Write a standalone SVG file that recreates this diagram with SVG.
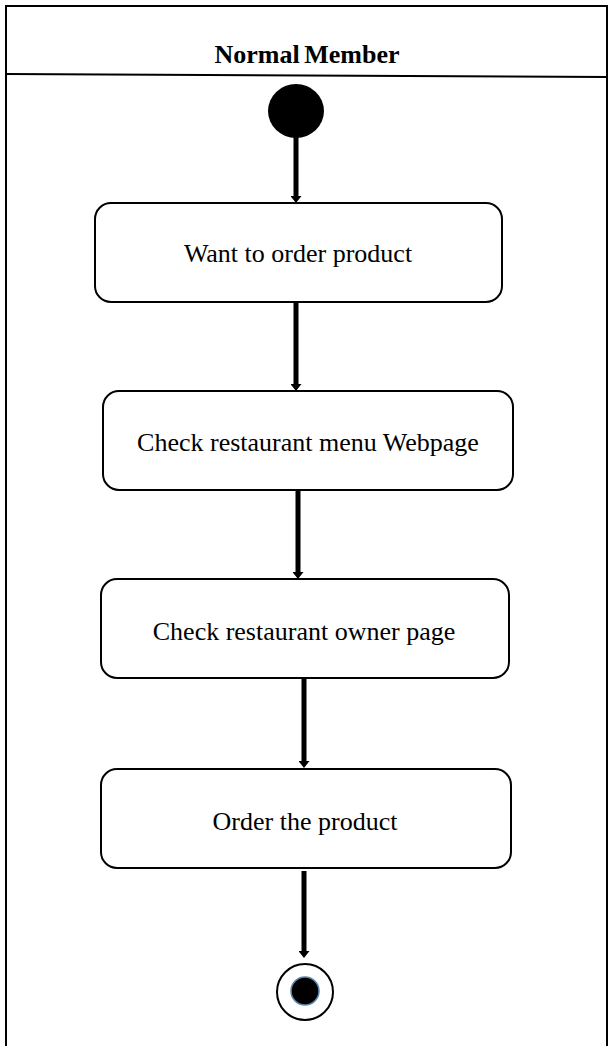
<svg xmlns="http://www.w3.org/2000/svg" width="614" height="1060" viewBox="0 0 614 1060">
<style>
.frame{fill:none;stroke:#000;stroke-width:2}
.box{fill:#fff;stroke:#000;stroke-width:2}
.lbl{font-family:"Liberation Serif","Times New Roman",serif;font-size:26px;fill:#000;text-anchor:middle}
.title{font-family:"Liberation Serif","Times New Roman",serif;font-size:26px;font-weight:bold;fill:#000;text-anchor:middle;word-spacing:-2px}
.conn{stroke:#000;stroke-width:5;fill:none;marker-end:url(#arr)}
</style>
<defs>
<marker id="arr" viewBox="0 0 7 11" refX="0" refY="5.5" markerWidth="7" markerHeight="11" orient="auto" markerUnits="userSpaceOnUse">
<path d="M0,0 L7,5.5 L0,11 Z" fill="#000"/>
</marker>
</defs>
<rect width="614" height="1060" fill="#fff"/>
<g id="lane">
<path class="frame" d="M6,1046 V6 H607 V1046"/>
<path d="M6,74 L608,77" stroke="#000" stroke-width="2" fill="none"/>
<text class="title" x="307" y="63">Normal Member</text>
</g>
<g id="connectors">
<line class="conn" x1="296" y1="136" x2="296" y2="196"/>
<line class="conn" x1="296" y1="303" x2="296" y2="384"/>
<line class="conn" x1="298" y1="491" x2="298" y2="572"/>
<line class="conn" x1="304" y1="679" x2="304" y2="761"/>
<line class="conn" x1="304" y1="871" x2="304" y2="951"/>
</g>
<g id="start">
<ellipse cx="296" cy="111" rx="28" ry="27" fill="#000"/>
</g>
<g id="n1">
<rect class="box" x="95" y="203" width="407" height="99" rx="16"/>
<text class="lbl" x="298" y="262">Want to order product</text>
</g>
<g id="n2">
<rect class="box" x="103" y="391" width="410" height="99" rx="16"/>
<text class="lbl" x="308" y="451">Check restaurant menu Webpage</text>
</g>
<g id="n3">
<rect class="box" x="101" y="579" width="408" height="99" rx="16"/>
<text class="lbl" x="304" y="640">Check restaurant owner page</text>
</g>
<g id="n4">
<rect class="box" x="101" y="769" width="410" height="99" rx="16"/>
<text class="lbl" x="305" y="830">Order the product</text>
</g>
<g id="end">
<circle cx="305" cy="992" r="28" fill="#fff" stroke="#000" stroke-width="2"/>
<circle cx="305" cy="991" r="14" fill="#000" stroke="#5b86ad" stroke-width="1.5"/>
</g>
</svg>
